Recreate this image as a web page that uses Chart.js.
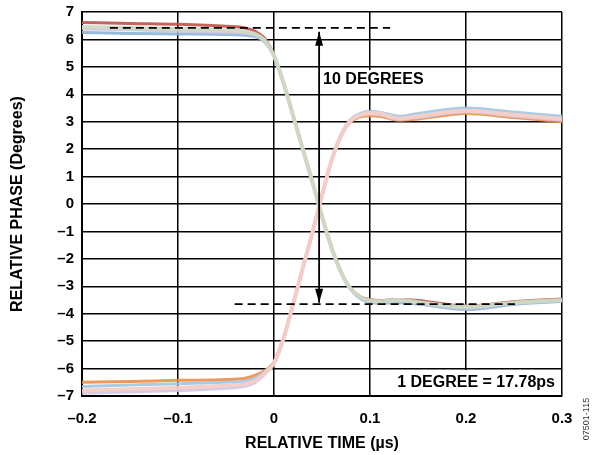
<!DOCTYPE html>
<html>
<head>
<meta charset="utf-8">
<script src="https://cdn.jsdelivr.net/npm/chart.js@4"></script>
<style>
  body { margin: 0; background: #fff; }
  #wrap { width: 592px; height: 455px; }
</style>
</head>
<body>
<div id="wrap"><canvas id="phaseChart" width="592" height="455"></canvas></div>
<script>
// sample times (us)
const times = [-0.2, -0.15, -0.1, -0.05, -0.03, -0.02, -0.01, 0, 0.01, 0.02, 0.03, 0.04, 0.05, 0.06, 0.07, 0.08, 0.09, 0.1, 0.11, 0.13, 0.15, 0.2, 0.25, 0.3];

// falling traces (degrees)
const fallRed   = [6.62, 6.58, 6.55, 6.48, 6.42, 6.3, 6.05, 5.42, 4.42, 3.22, 2.02, 0.82, -0.43, -1.58, -2.48, -3.08, -3.38, -3.48, -3.52, -3.48, -3.52, -3.72, -3.56, -3.46];
const fallBlue  = [6.25, 6.22, 6.2, 6.18, 6.15, 6.1, 5.92, 5.38, 4.38, 3.18, 1.98, 0.78, -0.47, -1.62, -2.52, -3.12, -3.45, -3.58, -3.62, -3.6, -3.65, -3.85, -3.66, -3.55];
const fallLilac = [6.38, 6.35, 6.3, 6.25, 6.22, 6.15, 5.95, 5.39, 4.39, 3.19, 1.99, 0.79, -0.46, -1.61, -2.51, -3.11, -3.42, -3.55, -3.58, -3.55, -3.6, -3.8, -3.62, -3.52];
const fallGreen = [6.45, 6.42, 6.38, 6.33, 6.28, 6.2, 5.98, 5.4, 4.4, 3.2, 2.0, 0.8, -0.45, -1.6, -2.5, -3.1, -3.4, -3.52, -3.55, -3.5, -3.58, -3.75, -3.6, -3.5];

// rising traces (degrees)
const riseOrange = [-6.5, -6.47, -6.43, -6.4, -6.35, -6.25, -6.08, -5.76, -4.86, -3.61, -2.31, -1.01, 0.34, 1.61, 2.5, 3.0, 3.18, 3.22, 3.2, 3.05, 3.1, 3.3, 3.15, 3.0];
const riseBlue   = [-6.65, -6.6, -6.55, -6.5, -6.45, -6.35, -6.12, -5.78, -4.88, -3.63, -2.33, -1.03, 0.32, 1.6, 2.55, 3.1, 3.3, 3.38, 3.35, 3.2, 3.3, 3.5, 3.35, 3.2];
const riseLilac  = [-6.9, -6.85, -6.8, -6.72, -6.65, -6.52, -6.22, -5.82, -4.92, -3.67, -2.37, -1.07, 0.28, 1.57, 2.48, 3.02, 3.22, 3.28, 3.25, 3.08, 3.15, 3.35, 3.2, 3.05];
const risePink   = [-6.8, -6.75, -6.7, -6.62, -6.55, -6.45, -6.18, -5.8, -4.9, -3.65, -2.35, -1.05, 0.3, 1.58, 2.5, 3.05, 3.25, 3.32, 3.3, 3.12, 3.2, 3.4, 3.25, 3.1];

// marker lines
const upperDashX = [-0.171, 0.121];
const upperDashY = [6.42, 6.42];
const lowerDashX = [-0.041, 0.251];
const lowerDashY = [-3.65, -3.65];
const arrowX = [0.047, 0.047];
const arrowY = [6.28, -3.6];

const xTicks = [-0.2, -0.1, 0, 0.1, 0.2, 0.3];
const yTicks = [7, 6, 5, 4, 3, 2, 1, 0, -1, -2, -3, -4, -5, -6, -7];

const pts = (xs, ys) => xs.map((x, i) => ({ x: x, y: ys[i] }));

function trace(vals, color, width) {
    return {
        data: pts(times, vals),
        borderColor: color,
        borderWidth: width,
        pointRadius: 0,
        cubicInterpolationMode: 'monotone'
    };
}
function dashed(xs, ys) {
    return { data: pts(xs, ys), borderColor: '#000', borderWidth: 1.7, borderDash: [8, 5], pointRadius: 0 };
}

const fmt = v => {
    const s = String(Math.round(v * 10) / 10);
    return s.replace('-', '\u2013');
};

const FONT = '"Liberation Sans", Arial, sans-serif';

// arrow heads + text boxes
const extras = {
    id: 'extras',
    afterDatasetsDraw(chart) {
        const { ctx, scales: { x, y }, chartArea } = chart;
        const ax = x.getPixelForValue(arrowX[0]);
        const top = y.getPixelForValue(arrowY[0]);
        const bot = y.getPixelForValue(arrowY[1]);
        ctx.save();
        ctx.fillStyle = '#000';
        ctx.beginPath();
        ctx.moveTo(ax, top); ctx.lineTo(ax - 4, top + 14); ctx.lineTo(ax + 4, top + 14); ctx.closePath(); ctx.fill();
        ctx.beginPath();
        ctx.moveTo(ax, bot); ctx.lineTo(ax - 4, bot - 14); ctx.lineTo(ax + 4, bot - 14); ctx.closePath(); ctx.fill();

        ctx.font = 'bold 16px ' + FONT;
        ctx.textBaseline = 'middle';
        ctx.textAlign = 'left';
        ctx.fillStyle = '#fff';
        const t1 = '10 DEGREES';
        const w1 = ctx.measureText(t1).width;
        const ty = y.getPixelForValue(4.55);
        ctx.fillRect(ax + 3, ty - 9, w1 + 4, 19);
        ctx.fillStyle = '#000';
        ctx.fillText(t1, ax + 4, ty);

        const t2 = '1 DEGREE = 17.78ps';
        const w2 = ctx.measureText(t2).width;
        const by = chartArea.bottom - 13;
        ctx.fillStyle = '#fff';
        ctx.fillRect(chartArea.right - 7 - w2 - 4, chartArea.bottom - 26, w2 + 9, 25);
        ctx.fillStyle = '#000';
        ctx.textAlign = 'right';
        ctx.fillText(t2, chartArea.right - 7, by);

        ctx.font = '9px ' + FONT;
        ctx.translate(587, 419);
        ctx.rotate(-Math.PI / 2);
        ctx.textAlign = 'center';
        ctx.fillStyle = '#333';
        ctx.fillText('07501-115', 0, 0);
        ctx.restore();
    }
};

// Chart.js paints dataset 0 last, so the lightest traces come first
new Chart(document.getElementById('phaseChart'), {
    type: 'line',
    data: {
        datasets: [
            dashed(upperDashX, upperDashY),
            dashed(lowerDashX, lowerDashY),
            { data: pts(arrowX, arrowY), borderColor: '#000', borderWidth: 1.8, pointRadius: 0 },
            trace(risePink, 'rgba(244,205,200,0.95)', 4),
            trace(fallGreen, 'rgba(205,218,195,0.95)', 4),
            trace(riseLilac, 'rgba(208,198,230,0.9)', 3),
            trace(riseBlue, 'rgba(160,198,226,0.9)', 3),
            trace(riseOrange, 'rgba(240,140,70,0.9)', 3),
            trace(fallLilac, 'rgba(205,195,228,0.9)', 3),
            trace(fallBlue, 'rgba(140,180,215,0.9)', 3),
            trace(fallRed, 'rgba(192,80,77,0.9)', 3)
        ]
    },
    options: {
        responsive: false,
        animation: false,
        layout: { padding: { left: 0, right: 30, top: 12, bottom: 0 } },
        plugins: { legend: { display: false }, tooltip: { enabled: false } },
        scales: {
            x: {
                type: 'linear', min: -0.2, max: 0.3,
                afterBuildTicks: s => { s.ticks = xTicks.map(v => ({ value: v })); },
                afterFit: s => { s.height = 59; s.paddingLeft = 0; s.paddingRight = 0; },
                grid: { color: '#000', lineWidth: 1.5, drawTicks: false },
                border: { color: '#000', width: 2 },
                ticks: { color: '#000', padding: 14, font: { family: FONT, size: 15, weight: 'bold' }, callback: fmt },
                title: { display: true, text: 'RELATIVE TIME (\u00b5s)', color: '#000', padding: { bottom: 2 }, font: { family: FONT, size: 16, weight: 'bold' } }
            },
            y: {
                min: -7, max: 7,
                afterBuildTicks: s => { s.ticks = yTicks.map(v => ({ value: v })); },
                afterFit: s => { s.width = 82; s.paddingTop = 0; s.paddingBottom = 0; },
                grid: { color: '#000', lineWidth: 1.5, drawTicks: false },
                border: { color: '#000', width: 2 },
                ticks: { color: '#000', padding: 8, font: { family: FONT, size: 15, weight: 'bold' }, callback: fmt },
                title: { display: true, text: 'RELATIVE PHASE (Degrees)', color: '#000', padding: { top: 8 }, font: { family: FONT, size: 16, weight: 'bold' } }
            }
        }
    },
    plugins: [extras]
});
</script>
</body>
</html>
